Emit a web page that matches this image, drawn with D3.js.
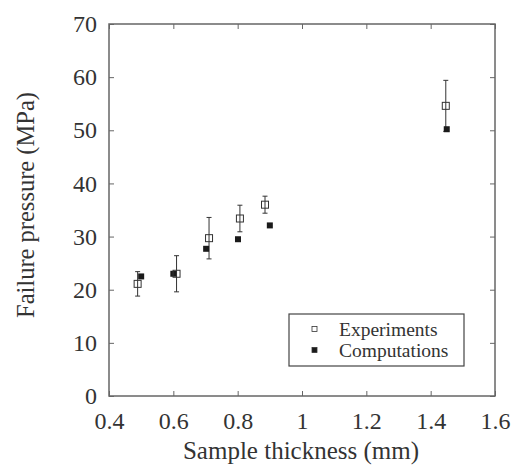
<!DOCTYPE html>
<html>
<head>
<meta charset="utf-8">
<script src="https://cdn.jsdelivr.net/npm/d3@7"></script>
<style>
  body { margin: 0; background: #fff; }
</style>
</head>
<body>
<svg id="chart" width="513" height="467"></svg>
<script>
// experiments: thickness, mean pressure, error (+/-)
const expThickness = [0.489, 0.61, 0.711, 0.807, 0.885, 1.447];
const expPressure = [21.1, 23.0, 29.7, 33.4, 36.0, 54.6];
const expError = [2.3, 3.4, 3.9, 2.5, 1.6, 4.8];

// computations
const compThickness = [0.5, 0.6, 0.702, 0.801, 0.9, 1.45];
const compPressure = [22.5, 23.0, 27.7, 29.5, 32.1, 50.2];

const xTicks = [0.4, 0.6, 0.8, 1, 1.2, 1.4, 1.6];
const yTicks = [0, 10, 20, 30, 40, 50, 60, 70];
const legendLabels = ["Experiments", "Computations"];

const FONT = "Liberation Serif";
const svg = d3.select("svg#chart");
const margin = { left: 109, top: 24, right: 18, bottom: 71 };
const width = 513 - margin.left - margin.right;
const height = 467 - margin.top - margin.bottom;
const axisColor = "#666";

const x = d3.scaleLinear().domain([0.4, 1.6]).range([0, width]);
const y = d3.scaleLinear().domain([0, 70]).range([height, 0]);

const g = svg.append("g").attr("transform", `translate(${margin.left},${margin.top})`);

// ticks pointing inward on all four sides
const fmt = d => d3.format("")(d);
const styleAxis = sel => {
    sel.attr("font-family", FONT).attr("font-size", 24);
    sel.select(".domain").remove();
    sel.selectAll(".tick line").attr("stroke", axisColor).attr("stroke-width", 1);
    sel.selectAll(".tick text").attr("fill", "#333");
};
g.append("g").attr("transform", `translate(0,${height})`)
    .call(d3.axisBottom(x).tickValues(xTicks).tickFormat(fmt).tickSizeInner(-5).tickSizeOuter(0).tickPadding(16))
    .call(styleAxis);
g.append("g")
    .call(d3.axisTop(x).tickValues(xTicks).tickFormat("").tickSizeInner(-5).tickSizeOuter(0))
    .call(styleAxis);
g.append("g")
    .call(d3.axisLeft(y).tickValues(yTicks).tickFormat(fmt).tickSizeInner(-5).tickSizeOuter(0).tickPadding(12))
    .call(styleAxis);
g.append("g").attr("transform", `translate(${width},0)`)
    .call(d3.axisRight(y).tickValues(yTicks).tickFormat("").tickSizeInner(-5).tickSizeOuter(0))
    .call(styleAxis);

g.append("rect")
    .attr("x", 0).attr("y", 0).attr("width", width).attr("height", height)
    .attr("fill", "none").attr("stroke", axisColor).attr("stroke-width", 1.5);

// axis titles
svg.append("text")
    .attr("x", 301)
    .attr("y", 459)
    .attr("text-anchor", "middle")
    .attr("font-family", FONT)
    .attr("font-size", 25)
    .attr("fill", "#333")
    .text("Sample thickness (mm)");
svg.append("text")
    .attr("transform", "translate(34,205) rotate(-90)")
    .attr("text-anchor", "middle")
    .attr("font-family", FONT)
    .attr("font-size", 24.5)
    .attr("fill", "#333")
    .text("Failure pressure (MPa)");

// error bars
const exp = expThickness.map((t, i) => ({ t: t, p: expPressure[i], e: expError[i] }));
const comp = compThickness.map((t, i) => ({ t: t, p: compPressure[i] }));

const bars = g.append("g").attr("stroke", "#333").attr("stroke-width", 1);
bars.selectAll("line.err").data(exp).join("line")
    .attr("class", "err")
    .attr("x1", d => x(d.t)).attr("x2", d => x(d.t))
    .attr("y1", d => y(d.p + d.e)).attr("y2", d => y(d.p - d.e));
bars.selectAll("line.capTop").data(exp).join("line")
    .attr("class", "capTop")
    .attr("x1", d => x(d.t) - 2.5).attr("x2", d => x(d.t) + 2.5)
    .attr("y1", d => y(d.p + d.e)).attr("y2", d => y(d.p + d.e));
bars.selectAll("line.capBot").data(exp).join("line")
    .attr("class", "capBot")
    .attr("x1", d => x(d.t) - 2.5).attr("x2", d => x(d.t) + 2.5)
    .attr("y1", d => y(d.p - d.e)).attr("y2", d => y(d.p - d.e));

// computations (filled squares)
g.selectAll("rect.comp").data(comp).join("rect")
    .attr("class", "comp")
    .attr("x", d => x(d.t) - 3).attr("y", d => y(d.p) - 3)
    .attr("width", 6).attr("height", 6)
    .attr("fill", "#1a1a1a");

// experiments (open squares)
g.selectAll("rect.exp").data(exp).join("rect")
    .attr("class", "exp")
    .attr("x", d => x(d.t) - 3.5).attr("y", d => y(d.p) - 3.5)
    .attr("width", 7).attr("height", 7)
    .attr("fill", "none").attr("stroke", "#333").attr("stroke-width", 1);

// legend
const legend = svg.append("g").attr("transform", "translate(289,314)");
legend.append("rect")
    .attr("width", 175).attr("height", 52)
    .attr("fill", "#fff").attr("stroke", "#444").attr("stroke-width", 1.2);
const items = legend.selectAll("g.item").data(legendLabels).join("g")
    .attr("class", "item")
    .attr("transform", (d, i) => `translate(0,${22 + i * 21})`);
items.append("rect")
    .attr("x", 23).attr("y", -9.5).attr("width", 5).attr("height", 5)
    .attr("fill", (d, i) => i === 0 ? "none" : "#1a1a1a")
    .attr("stroke", "#333").attr("stroke-width", 0.8);
items.append("text")
    .attr("x", 50).attr("y", 0)
    .attr("font-family", FONT)
    .attr("font-size", 19.5)
    .attr("fill", "#333")
    .text(d => d);
</script>
</body>
</html>
